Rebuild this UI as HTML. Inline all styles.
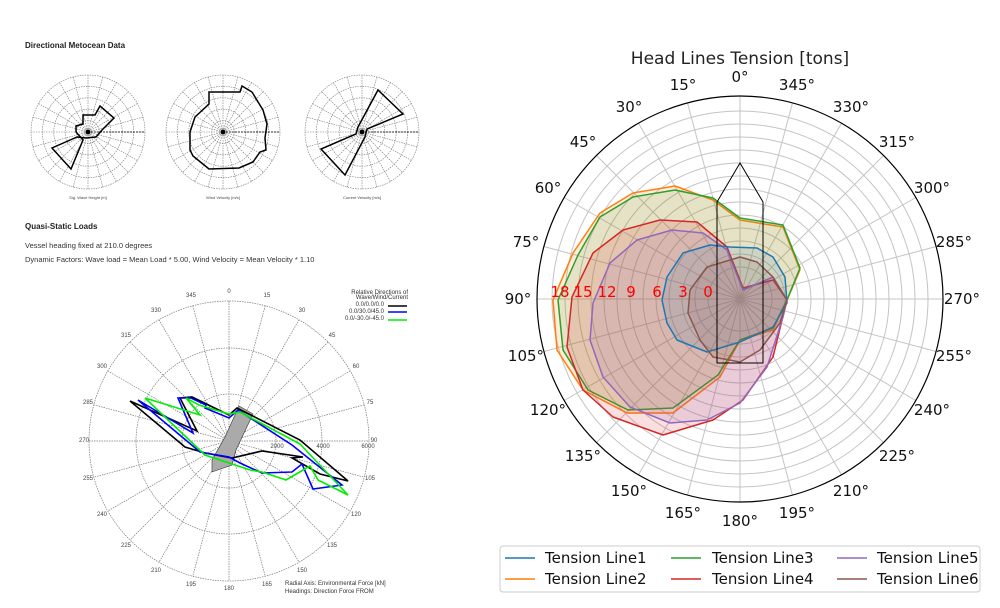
<!DOCTYPE html>
<html><head><meta charset="utf-8"><style>
html,body{margin:0;padding:0;background:#fff;}
svg{display:block;font-family:"Liberation Sans",sans-serif;}
.dj{font-family:"DejaVu Sans","Liberation Sans",sans-serif;}
</style></head><body>
<svg width="1000" height="608" viewBox="0 0 1000 608" xmlns="http://www.w3.org/2000/svg">
<defs>
<g id="sp" fill="none" stroke="#777" stroke-width="0.6" stroke-dasharray="1.5,1">
<circle r="11.4"/><circle r="22.8"/><circle r="34.2"/><circle r="45.6"/><circle r="57"/>
<line x1="0" y1="-57" x2="0" y2="57"/><line x1="-57" y1="0" x2="57" y2="0"/>
<line x1="-14.8" y1="-55" x2="14.8" y2="55"/><line x1="14.8" y1="-55" x2="-14.8" y2="55"/>
<line x1="-28.5" y1="-49.4" x2="28.5" y2="49.4"/><line x1="28.5" y1="-49.4" x2="-28.5" y2="49.4"/>
<line x1="-40.3" y1="-40.3" x2="40.3" y2="40.3"/><line x1="40.3" y1="-40.3" x2="-40.3" y2="40.3"/>
<line x1="-49.4" y1="-28.5" x2="49.4" y2="28.5"/><line x1="49.4" y1="-28.5" x2="-49.4" y2="28.5"/>
<line x1="-55" y1="-14.8" x2="55" y2="14.8"/><line x1="55" y1="-14.8" x2="-55" y2="14.8"/>
</g>
</defs>

<text x="25" y="48" font-size="8" font-weight="bold" fill="#222">Directional Metocean Data</text>
<g transform="translate(88,132)"><use href="#sp"/><line x1="0" y1="0" x2="57" y2="0" stroke="#000" stroke-width="0.7" stroke-dasharray="2,1"/>
<polygon points="-5,-17 7,-17 12,-26 26,-14 14,-2 8,5 -2,6 -11,5 -36,16 -17,37 -5,8 -12,0 -12,-6 -5,-8" fill="none" stroke="#000" stroke-width="1.5"/><circle r="2.5"/></g>
<text x="88" y="199" font-size="4" text-anchor="middle" fill="#444">Sig. Wave Height [m]</text>
<g transform="translate(223,132)"><use href="#sp"/><line x1="0" y1="0" x2="57" y2="0" stroke="#000" stroke-width="0.7" stroke-dasharray="2,1"/>
<polygon points="-14,-40 17,-40 19,-46 29,-40 40,-22 44,-8 42,6 43,18 37,20 30,30 16,36 -14,37 -30,24 -33,18 -33,0 -28,-15 -14,-28" fill="none" stroke="#000" stroke-width="1.5"/><circle r="2.5"/></g>
<text x="223" y="199" font-size="4" text-anchor="middle" fill="#444">Wind Velocity [m/s]</text>
<g transform="translate(362,132)"><use href="#sp"/><line x1="0" y1="0" x2="57" y2="0" stroke="#000" stroke-width="0.7" stroke-dasharray="2,1"/>
<polygon points="-4,-5 16,-42 41,-18 5,-3 3,5 -17,43 -41,17 -6,2" fill="none" stroke="#000" stroke-width="1.5"/><circle r="2.5"/></g>
<text x="362" y="199" font-size="4" text-anchor="middle" fill="#444">Current Velocity [m/s]</text>

<text x="25" y="229" font-size="8" font-weight="bold" fill="#222">Quasi-Static Loads</text>
<text x="25" y="248" font-size="7.5" fill="#333">Vessel heading fixed at 210.0 degrees</text>
<text x="25" y="262" font-size="7.5" fill="#333">Dynamic Factors: Wave load = Mean Load * 5.00, Wind Velocity = Mean Velocity * 1.10</text>

<g fill="none" stroke="#777" stroke-width="0.7" stroke-dasharray="1.5,1">
<circle cx="229" cy="441" r="47"/><circle cx="229" cy="441" r="93"/><circle cx="229" cy="441" r="140"/>
<line x1="229" y1="301" x2="229" y2="581"/><line x1="89" y1="441" x2="369" y2="441"/>
<line x1="192.8" y1="305.8" x2="265.2" y2="576.2"/><line x1="265.2" y1="305.8" x2="192.8" y2="576.2"/>
<line x1="159" y1="319.8" x2="299" y2="562.2"/><line x1="299" y1="319.8" x2="159" y2="562.2"/>
<line x1="130" y1="342" x2="328" y2="540"/><line x1="328" y1="342" x2="130" y2="540"/>
<line x1="107.8" y1="371" x2="350.2" y2="511"/><line x1="350.2" y1="371" x2="107.8" y2="511"/>
<line x1="93.8" y1="404.8" x2="364.2" y2="477.2"/><line x1="364.2" y1="404.8" x2="93.8" y2="477.2"/>
</g>
<g font-size="6" fill="#444" text-anchor="middle" dominant-baseline="central">
<text x="229" y="292">0</text><text x="267" y="296">15</text><text x="302" y="311">30</text><text x="332" y="336">45</text><text x="356" y="367">60</text><text x="370" y="403">75</text><text x="374" y="441">90</text><text x="370" y="479">105</text><text x="356" y="515">120</text><text x="332" y="546">135</text><text x="302" y="571">150</text><text x="267" y="585">165</text><text x="229" y="589">180</text><text x="191" y="585">195</text><text x="156" y="571">210</text><text x="126" y="546">225</text><text x="102" y="515">240</text><text x="88" y="479">255</text><text x="84" y="441">270</text><text x="88" y="403">285</text><text x="102" y="367">300</text><text x="126" y="336">315</text><text x="156" y="311">330</text><text x="191" y="296">345</text>
<text x="277" y="447">2000</text><text x="323" y="447">4000</text><text x="368" y="447">6000</text>
</g>
<polygon points="239,406 253,414 236,450 232,465 212,472 212,460 225,437" fill="#aaa" stroke="#333" stroke-width="0.6"/>
<polyline fill="none" stroke="#000" stroke-width="1.6" points="130,401 197,431 180,398 192,397 229,415 237,408 300,440 348,481 320,474 292,458 303,457 262,451 232,458 205,453 185,447 130,401"/>
<polyline fill="none" stroke="#0000ff" stroke-width="1.6" points="138,400 193,433 178,398 191,398 206,405 205,408 229,418 238,410 292,445 342,485 313,489 302,464 292,472 262,473 240,463 229,457 200,452 138,400"/>
<polyline fill="none" stroke="#00ee00" stroke-width="1.6" points="145,398 200,415 186,398 199,405 229,414 240,412 300,444 348,495 318,480 310,466 286,480 262,472 250,470 229,463 205,455 145,398"/>
<g font-size="6" fill="#333">
<text x="408" y="294" text-anchor="end">Relative Directions of</text>
<text x="408" y="299" text-anchor="end">Wave/Wind/Current</text>
<text x="384" y="306" text-anchor="end">0.0/0.0/0.0</text>
<text x="384" y="313" text-anchor="end">0.0/30.0/45.0</text>
<text x="384" y="320" text-anchor="end">0.0/-30.0/-45.0</text>
<text x="285" y="585">Radial Axis: Environmental Force [kN]</text>
<text x="285" y="593">Headings: Direction Force FROM</text>
</g>
<line x1="388" y1="306" x2="407" y2="306" stroke="#000" stroke-width="1.5"/>
<line x1="388" y1="312" x2="407" y2="312" stroke="#00f" stroke-width="1.5"/>
<line x1="388" y1="320" x2="407" y2="320" stroke="#0e0" stroke-width="1.5"/>

<g class="dj">
<text x="740" y="64" font-size="17" text-anchor="middle" fill="#222">Head Lines Tension [tons]</text>
<g fill="none" stroke="#c4c4c4" stroke-width="1">
<circle cx="740" cy="299" r="32"/><circle cx="740" cy="299" r="45"/><circle cx="740" cy="299" r="58"/><circle cx="740" cy="299" r="71"/><circle cx="740" cy="299" r="84"/><circle cx="740" cy="299" r="97"/><circle cx="740" cy="299" r="110"/><circle cx="740" cy="299" r="123"/><circle cx="740" cy="299" r="136"/><circle cx="740" cy="299" r="149"/><circle cx="740" cy="299" r="162"/><circle cx="740" cy="299" r="175"/><circle cx="740" cy="299" r="188"/>
<line x1="740" y1="96" x2="740" y2="502"/><line x1="687.5" y1="102.9" x2="792.5" y2="495.1"/><line x1="638.5" y1="123.2" x2="841.5" y2="474.8"/><line x1="596.5" y1="155.5" x2="883.5" y2="442.5"/><line x1="564.2" y1="197.5" x2="915.8" y2="400.5"/><line x1="543.9" y1="246.5" x2="936.1" y2="351.5"/><line x1="537" y1="299" x2="943" y2="299"/><line x1="543.9" y1="351.5" x2="936.1" y2="246.5"/><line x1="564.2" y1="400.5" x2="915.8" y2="197.5"/><line x1="596.5" y1="442.5" x2="883.5" y2="155.5"/><line x1="638.5" y1="474.8" x2="841.5" y2="123.2"/><line x1="687.5" y1="495.1" x2="792.5" y2="102.9"/>
</g>
<circle cx="740" cy="299" r="203" fill="none" stroke="#000" stroke-width="1.2"/>
<g stroke-width="1.5" stroke-linejoin="round">
<polygon fill="#ff7f0e" fill-opacity="0.15" stroke="#ff7f0e" points="675,186 633,193 600,213 573,253 553,300 557,350 583,390 627,413 673,413 720,377 740,340 773,330 787,300 800,270 783,227 740,220 713,200"/>
<polygon fill="#2ca02c" fill-opacity="0.12" stroke="#2ca02c" points="675,190 633,197 600,217 578,255 558,300 563,350 588,390 628,410 673,408 718,375 740,340 773,328 787,300 800,268 783,225 740,218 713,198"/>
<polygon fill="#d62728" fill-opacity="0.15" stroke="#d62728" points="660,220 623,230 593,253 572,297 567,347 583,390 613,417 663,435 713,420 743,400 773,357 787,300 773,280 743,288 727,247 697,222"/>
<polygon fill="#9467bd" fill-opacity="0.15" stroke="#9467bd" points="672,230 637,240 610,263 593,303 590,340 603,377 630,407 670,423 707,420 740,403 767,367 783,317 787,300 773,277 743,290 727,250 703,233"/>
<polygon fill="#1f77b4" fill-opacity="0.12" stroke="#1f77b4" points="710,245 683,253 667,277 662,300 667,323 677,340 707,352 740,342 773,327 787,303 785,277 773,257 757,248 730,247"/>
<polygon fill="#8c564b" fill-opacity="0.15" stroke="#8c564b" points="740,257 707,267 690,290 688,313 700,340 713,357 740,362 760,350 780,323 787,300 773,277 757,262"/>
</g>
<polygon points="740,163 763,202 763,363 717,363 717,202" fill="none" stroke="#000" stroke-width="1"/>
<g font-size="15" fill="#f00" text-anchor="middle" dominant-baseline="central">
<text x="708" y="292">0</text><text x="683" y="292">3</text><text x="657" y="292">6</text><text x="631" y="292">9</text><text x="607" y="292">12</text><text x="583" y="292">15</text><text x="560" y="292">18</text>
</g>
<g font-size="15" fill="#111" text-anchor="middle" dominant-baseline="central">
<text x="740" y="77">0°</text><text x="683" y="85">15°</text><text x="629" y="107">30°</text><text x="583" y="142">45°</text><text x="548" y="188">60°</text><text x="526" y="242">75°</text><text x="518" y="299">90°</text><text x="526" y="356">105°</text><text x="548" y="410">120°</text><text x="583" y="456">135°</text><text x="629" y="491">150°</text><text x="683" y="513">165°</text><text x="740" y="521">180°</text><text x="797" y="513">195°</text><text x="851" y="491">210°</text><text x="897" y="456">225°</text><text x="932" y="410">240°</text><text x="954" y="356">255°</text><text x="962" y="299">270°</text><text x="954" y="242">285°</text><text x="932" y="188">300°</text><text x="897" y="142">315°</text><text x="851" y="107">330°</text><text x="797" y="85">345°</text>
</g>
<rect x="500" y="546" width="480" height="46" rx="3" fill="#fff" stroke="#ccc" stroke-width="1"/>
<g stroke-width="1.5">
<line x1="505" y1="558" x2="535" y2="558" stroke="#1f77b4"/><line x1="505" y1="579" x2="535" y2="579" stroke="#ff7f0e"/>
<line x1="671" y1="558" x2="701" y2="558" stroke="#2ca02c"/><line x1="671" y1="579" x2="701" y2="579" stroke="#d62728"/>
<line x1="837" y1="558" x2="867" y2="558" stroke="#9467bd"/><line x1="837" y1="579" x2="867" y2="579" stroke="#8c564b"/>
</g>
<g font-size="15" fill="#111" dominant-baseline="central">
<text x="545" y="558">Tension Line1</text><text x="545" y="579">Tension Line2</text>
<text x="712" y="558">Tension Line3</text><text x="712" y="579">Tension Line4</text>
<text x="877" y="558">Tension Line5</text><text x="877" y="579">Tension Line6</text>
</g>
</g>
</svg>
</body></html>
